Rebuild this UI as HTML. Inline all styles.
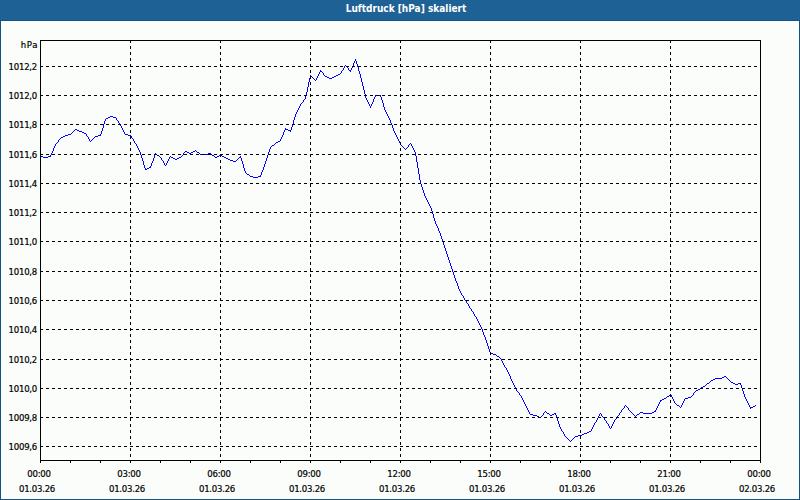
<!DOCTYPE html>
<html><head><meta charset="utf-8"><style>
html,body{margin:0;padding:0;}
body{width:800px;height:500px;position:relative;overflow:hidden;background:#fbfdfb;
font-family:"DejaVu Sans Condensed","DejaVu Sans","Liberation Sans",sans-serif;font-stretch:condensed;}
.yl,.xl,#hpa{-webkit-text-stroke:0.2px #000;}
#hd{position:absolute;left:0;top:0;width:800px;height:20px;background:#1e6291;}
#hd svg{position:absolute;left:0;top:0;}
#hd span{position:absolute;left:0;width:812px;top:3px;text-align:center;color:#fff;font-weight:bold;font-size:10px;line-height:12px;}
#bt{position:absolute;left:0;top:20px;width:800px;height:1px;background:#105486;}
#bl{position:absolute;left:0;top:20px;width:1px;height:480px;background:#105486;}
#br{position:absolute;left:799px;top:20px;width:1px;height:480px;background:#105486;}
#bb{position:absolute;left:0;top:499px;width:800px;height:1px;background:#105486;}
svg{position:absolute;left:0;top:0;}
.g{stroke:#000;stroke-width:1;stroke-dasharray:3 3;shape-rendering:crispEdges;}
.t{stroke:#000;stroke-width:1;shape-rendering:crispEdges;}
.f{fill:none;stroke:#000;stroke-width:1;shape-rendering:crispEdges;}
.d{fill:none;stroke:#0000ff;stroke-width:1;shape-rendering:crispEdges;stroke-linejoin:miter;}
.yl{position:absolute;right:763px;font-size:9.5px;letter-spacing:-0.25px;line-height:12px;color:#000;white-space:nowrap;}
.xl{position:absolute;width:60px;text-align:center;font-size:9.5px;letter-spacing:-0.25px;line-height:12px;color:#000;white-space:nowrap;}
#hpa{position:absolute;right:762px;top:39px;font-size:9.5px;line-height:12px;letter-spacing:0.6px;}
</style></head><body>
<div id="hd"><svg width="800" height="20"><defs><pattern id="dp" width="4" height="4" patternUnits="userSpaceOnUse"><rect x="1" y="1" width="1" height="1" fill="#215eb4"/><rect x="3" y="3" width="1" height="1" fill="#215eb4"/></pattern></defs><rect width="800" height="20" fill="url(#dp)"/></svg><span>Luftdruck [hPa] skaliert</span></div>
<div id="bt"></div><div id="bl"></div><div id="br"></div><div id="bb"></div>
<div id="hpa">hPa</div>
<div class="yl" style="top:61px">1012,2</div><div class="yl" style="top:90px">1012,0</div><div class="yl" style="top:119px">1011,8</div><div class="yl" style="top:149px">1011,6</div><div class="yl" style="top:178px">1011,4</div><div class="yl" style="top:207px">1011,2</div><div class="yl" style="top:236px">1011,0</div><div class="yl" style="top:266px">1010,8</div><div class="yl" style="top:295px">1010,6</div><div class="yl" style="top:324px">1010,4</div><div class="yl" style="top:354px">1010,2</div><div class="yl" style="top:383px">1010,0</div><div class="yl" style="top:412px">1009,8</div><div class="yl" style="top:441px">1009,6</div>
<div class="xl" style="left:9px;top:468px">00:00</div><div class="xl" style="left:7px;top:483px">01.03.26</div><div class="xl" style="left:99px;top:468px">03:00</div><div class="xl" style="left:97px;top:483px">01.03.26</div><div class="xl" style="left:189px;top:468px">06:00</div><div class="xl" style="left:187px;top:483px">01.03.26</div><div class="xl" style="left:279px;top:468px">09:00</div><div class="xl" style="left:277px;top:483px">01.03.26</div><div class="xl" style="left:369px;top:468px">12:00</div><div class="xl" style="left:367px;top:483px">01.03.26</div><div class="xl" style="left:459px;top:468px">15:00</div><div class="xl" style="left:457px;top:483px">01.03.26</div><div class="xl" style="left:549px;top:468px">18:00</div><div class="xl" style="left:547px;top:483px">01.03.26</div><div class="xl" style="left:639px;top:468px">21:00</div><div class="xl" style="left:637px;top:483px">01.03.26</div><div class="xl" style="left:729px;top:468px">00:00</div><div class="xl" style="left:727px;top:483px">02.03.26</div>
<svg width="800" height="500" viewBox="0 0 800 500">
<path d="M40 156h1v1h-1zM41 156h1v1h-1zM42 156h1v1h-1zM43 157h1v1h-1zM44 157h1v1h-1zM45 157h1v1h-1zM46 157h1v1h-1zM47 157h1v1h-1zM48 156h1v1h-1zM49 156h1v1h-1zM50 155h1v2h-1zM51 153h1v2h-1zM52 151h1v2h-1zM53 148h1v3h-1zM54 146h1v2h-1zM55 144h1v2h-1zM56 143h1v1h-1zM57 142h1v1h-1zM58 140h1v2h-1zM59 139h1v1h-1zM60 138h1v1h-1zM61 137h1v1h-1zM62 137h1v1h-1zM63 136h1v1h-1zM64 136h1v1h-1zM65 135h1v1h-1zM66 135h1v1h-1zM67 135h1v1h-1zM68 134h1v1h-1zM69 134h1v1h-1zM70 134h1v1h-1zM71 133h1v1h-1zM72 132h1v1h-1zM73 131h1v1h-1zM74 130h1v1h-1zM75 129h1v1h-1zM76 129h1v1h-1zM77 130h1v1h-1zM78 130h1v1h-1zM79 131h1v1h-1zM80 131h1v1h-1zM81 131h1v1h-1zM82 132h1v1h-1zM83 132h1v1h-1zM84 133h1v1h-1zM85 133h1v1h-1zM86 134h1v2h-1zM87 136h1v1h-1zM88 137h1v2h-1zM89 139h1v2h-1zM90 141h1v1h-1zM91 140h1v1h-1zM92 139h1v1h-1zM93 138h1v1h-1zM94 137h1v1h-1zM95 136h1v1h-1zM96 136h1v1h-1zM97 136h1v1h-1zM98 135h1v1h-1zM99 135h1v1h-1zM100 134h1v2h-1zM101 131h1v3h-1zM102 128h1v3h-1zM103 124h1v4h-1zM104 121h1v3h-1zM105 119h1v2h-1zM106 118h1v1h-1zM107 118h1v1h-1zM108 117h1v1h-1zM109 117h1v1h-1zM110 116h1v1h-1zM111 116h1v1h-1zM112 116h1v1h-1zM113 117h1v1h-1zM114 117h1v1h-1zM115 117h1v1h-1zM116 118h1v2h-1zM117 120h1v1h-1zM118 121h1v2h-1zM119 123h1v2h-1zM120 125h1v1h-1zM121 126h1v2h-1zM122 128h1v2h-1zM123 130h1v2h-1zM124 132h1v2h-1zM125 134h1v1h-1zM126 134h1v1h-1zM127 134h1v1h-1zM128 135h1v1h-1zM129 135h1v1h-1zM130 135h1v1h-1zM131 136h1v2h-1zM132 138h1v1h-1zM133 139h1v2h-1zM134 141h1v2h-1zM135 143h1v1h-1zM136 144h1v2h-1zM137 146h1v2h-1zM138 148h1v2h-1zM139 150h1v2h-1zM140 152h1v3h-1zM141 155h1v3h-1zM142 158h1v3h-1zM143 161h1v4h-1zM144 165h1v3h-1zM145 168h1v2h-1zM146 169h1v1h-1zM147 168h1v1h-1zM148 168h1v1h-1zM149 167h1v1h-1zM150 166h1v2h-1zM151 163h1v3h-1zM152 161h1v2h-1zM153 158h1v3h-1zM154 155h1v3h-1zM155 153h1v2h-1zM156 154h1v1h-1zM157 155h1v1h-1zM158 155h1v1h-1zM159 156h1v1h-1zM160 157h1v1h-1zM161 158h1v2h-1zM162 160h1v1h-1zM163 161h1v2h-1zM164 163h1v2h-1zM165 165h1v1h-1zM166 163h1v2h-1zM167 161h1v2h-1zM168 159h1v2h-1zM169 157h1v2h-1zM170 156h1v1h-1zM171 157h1v1h-1zM172 157h1v1h-1zM173 158h1v1h-1zM174 158h1v1h-1zM175 159h1v1h-1zM176 159h1v1h-1zM177 158h1v1h-1zM178 158h1v1h-1zM179 157h1v1h-1zM180 157h1v1h-1zM181 156h1v1h-1zM182 155h1v1h-1zM183 153h1v2h-1zM184 152h1v1h-1zM185 151h1v1h-1zM186 151h1v1h-1zM187 152h1v1h-1zM188 152h1v1h-1zM189 153h1v1h-1zM190 153h1v1h-1zM191 152h1v1h-1zM192 152h1v1h-1zM193 151h1v1h-1zM194 151h1v1h-1zM195 150h1v1h-1zM196 151h1v1h-1zM197 152h1v1h-1zM198 152h1v1h-1zM199 153h1v1h-1zM200 154h1v1h-1zM201 154h1v1h-1zM202 154h1v1h-1zM203 154h1v1h-1zM204 154h1v1h-1zM205 154h1v1h-1zM206 154h1v1h-1zM207 154h1v1h-1zM208 153h1v1h-1zM209 153h1v1h-1zM210 153h1v1h-1zM211 154h1v1h-1zM212 155h1v1h-1zM213 155h1v1h-1zM214 156h1v1h-1zM215 157h1v1h-1zM216 157h1v1h-1zM217 156h1v1h-1zM218 156h1v1h-1zM219 155h1v1h-1zM220 155h1v1h-1zM221 155h1v1h-1zM222 156h1v1h-1zM223 156h1v1h-1zM224 157h1v1h-1zM225 157h1v1h-1zM226 158h1v1h-1zM227 158h1v1h-1zM228 159h1v1h-1zM229 159h1v1h-1zM230 160h1v1h-1zM231 160h1v1h-1zM232 160h1v1h-1zM233 161h1v1h-1zM234 161h1v1h-1zM235 161h1v1h-1zM236 160h1v1h-1zM237 159h1v1h-1zM238 158h1v1h-1zM239 157h1v1h-1zM240 156h1v2h-1zM241 158h1v3h-1zM242 161h1v3h-1zM243 164h1v4h-1zM244 168h1v3h-1zM245 171h1v2h-1zM246 173h1v1h-1zM247 174h1v1h-1zM248 174h1v1h-1zM249 175h1v1h-1zM250 176h1v1h-1zM251 176h1v1h-1zM252 176h1v1h-1zM253 177h1v1h-1zM254 177h1v1h-1zM255 177h1v1h-1zM256 177h1v1h-1zM257 177h1v1h-1zM258 176h1v1h-1zM259 176h1v1h-1zM260 175h1v2h-1zM261 172h1v3h-1zM262 170h1v2h-1zM263 167h1v3h-1zM264 164h1v3h-1zM265 161h1v3h-1zM266 158h1v3h-1zM267 155h1v3h-1zM268 152h1v3h-1zM269 149h1v3h-1zM270 147h1v2h-1zM271 146h1v1h-1zM272 145h1v1h-1zM273 145h1v1h-1zM274 144h1v1h-1zM275 143h1v1h-1zM276 142h1v1h-1zM277 142h1v1h-1zM278 141h1v1h-1zM279 141h1v1h-1zM280 139h1v2h-1zM281 137h1v2h-1zM282 135h1v2h-1zM283 132h1v3h-1zM284 130h1v2h-1zM285 128h1v2h-1zM286 129h1v1h-1zM287 129h1v1h-1zM288 130h1v1h-1zM289 130h1v1h-1zM290 130h1v2h-1zM291 127h1v3h-1zM292 124h1v3h-1zM293 120h1v4h-1zM294 117h1v3h-1zM295 114h1v3h-1zM296 112h1v2h-1zM297 110h1v2h-1zM298 108h1v2h-1zM299 106h1v2h-1zM300 104h1v2h-1zM301 103h1v1h-1zM302 102h1v1h-1zM303 100h1v2h-1zM304 99h1v1h-1zM305 96h1v3h-1zM306 92h1v4h-1zM307 87h1v5h-1zM308 82h1v5h-1zM309 78h1v4h-1zM310 75h1v3h-1zM311 76h1v1h-1zM312 77h1v1h-1zM313 78h1v1h-1zM314 79h1v1h-1zM315 80h1v1h-1zM316 78h1v2h-1zM317 76h1v2h-1zM318 74h1v2h-1zM319 72h1v2h-1zM320 70h1v2h-1zM321 71h1v1h-1zM322 72h1v1h-1zM323 73h1v2h-1zM324 75h1v1h-1zM325 76h1v1h-1zM326 76h1v1h-1zM327 77h1v1h-1zM328 77h1v1h-1zM329 78h1v1h-1zM330 78h1v1h-1zM331 78h1v1h-1zM332 77h1v1h-1zM333 77h1v1h-1zM334 76h1v1h-1zM335 76h1v1h-1zM336 75h1v1h-1zM337 75h1v1h-1zM338 74h1v1h-1zM339 74h1v1h-1zM340 73h1v1h-1zM341 71h1v2h-1zM342 70h1v1h-1zM343 68h1v2h-1zM344 66h1v2h-1zM345 65h1v1h-1zM346 66h1v1h-1zM347 67h1v1h-1zM348 68h1v2h-1zM349 70h1v1h-1zM350 70h1v2h-1zM351 68h1v2h-1zM352 66h1v2h-1zM353 63h1v3h-1zM354 61h1v2h-1zM355 59h1v2h-1zM356 61h1v3h-1zM357 64h1v3h-1zM358 67h1v4h-1zM359 71h1v3h-1zM360 74h1v4h-1zM361 78h1v4h-1zM362 82h1v4h-1zM363 86h1v4h-1zM364 90h1v4h-1zM365 94h1v4h-1zM366 98h1v2h-1zM367 100h1v2h-1zM368 102h1v2h-1zM369 104h1v2h-1zM370 106h1v2h-1zM371 104h1v2h-1zM372 102h1v2h-1zM373 99h1v3h-1zM374 97h1v2h-1zM375 95h1v2h-1zM376 95h1v1h-1zM377 95h1v1h-1zM378 95h1v1h-1zM379 95h1v1h-1zM380 95h1v2h-1zM381 97h1v3h-1zM382 100h1v3h-1zM383 103h1v4h-1zM384 107h1v3h-1zM385 110h1v2h-1zM386 112h1v2h-1zM387 114h1v2h-1zM388 116h1v2h-1zM389 118h1v2h-1zM390 120h1v3h-1zM391 123h1v2h-1zM392 125h1v3h-1zM393 128h1v3h-1zM394 131h1v2h-1zM395 133h1v2h-1zM396 135h1v2h-1zM397 137h1v2h-1zM398 139h1v2h-1zM399 141h1v2h-1zM400 143h1v2h-1zM401 145h1v1h-1zM402 146h1v1h-1zM403 147h1v1h-1zM404 148h1v1h-1zM405 149h1v1h-1zM406 148h1v1h-1zM407 147h1v1h-1zM408 145h1v2h-1zM409 144h1v1h-1zM410 143h1v1h-1zM411 144h1v2h-1zM412 146h1v2h-1zM413 148h1v2h-1zM414 150h1v2h-1zM415 152h1v4h-1zM416 156h1v6h-1zM417 162h1v6h-1zM418 168h1v6h-1zM419 174h1v6h-1zM420 180h1v4h-1zM421 184h1v3h-1zM422 187h1v3h-1zM423 190h1v3h-1zM424 193h1v3h-1zM425 196h1v2h-1zM426 198h1v2h-1zM427 200h1v2h-1zM428 202h1v2h-1zM429 204h1v2h-1zM430 206h1v2h-1zM431 208h1v3h-1zM432 211h1v3h-1zM433 214h1v4h-1zM434 218h1v3h-1zM435 221h1v3h-1zM436 224h1v2h-1zM437 226h1v2h-1zM438 228h1v3h-1zM439 231h1v2h-1zM440 233h1v3h-1zM441 236h1v3h-1zM442 239h1v3h-1zM443 242h1v3h-1zM444 245h1v3h-1zM445 248h1v3h-1zM446 251h1v3h-1zM447 254h1v3h-1zM448 257h1v3h-1zM449 260h1v3h-1zM450 263h1v3h-1zM451 266h1v3h-1zM452 269h1v3h-1zM453 272h1v3h-1zM454 275h1v3h-1zM455 278h1v3h-1zM456 281h1v2h-1zM457 283h1v3h-1zM458 286h1v3h-1zM459 289h1v2h-1zM460 291h1v2h-1zM461 293h1v2h-1zM462 295h1v1h-1zM463 296h1v2h-1zM464 298h1v2h-1zM465 300h1v1h-1zM466 301h1v2h-1zM467 303h1v1h-1zM468 304h1v2h-1zM469 306h1v2h-1zM470 308h1v1h-1zM471 309h1v2h-1zM472 311h1v1h-1zM473 312h1v2h-1zM474 314h1v2h-1zM475 316h1v1h-1zM476 317h1v2h-1zM477 319h1v2h-1zM478 321h1v2h-1zM479 323h1v2h-1zM480 325h1v2h-1zM481 327h1v2h-1zM482 329h1v3h-1zM483 332h1v3h-1zM484 335h1v2h-1zM485 337h1v3h-1zM486 340h1v3h-1zM487 343h1v3h-1zM488 346h1v3h-1zM489 349h1v3h-1zM490 352h1v2h-1zM491 353h1v1h-1zM492 353h1v1h-1zM493 354h1v1h-1zM494 354h1v1h-1zM495 354h1v1h-1zM496 355h1v1h-1zM497 356h1v1h-1zM498 356h1v1h-1zM499 357h1v1h-1zM500 358h1v1h-1zM501 359h1v2h-1zM502 361h1v2h-1zM503 363h1v2h-1zM504 365h1v2h-1zM505 367h1v1h-1zM506 368h1v2h-1zM507 370h1v2h-1zM508 372h1v2h-1zM509 374h1v2h-1zM510 376h1v3h-1zM511 379h1v2h-1zM512 381h1v2h-1zM513 383h1v2h-1zM514 385h1v2h-1zM515 387h1v2h-1zM516 389h1v2h-1zM517 391h1v1h-1zM518 392h1v1h-1zM519 393h1v2h-1zM520 395h1v1h-1zM521 396h1v2h-1zM522 398h1v2h-1zM523 400h1v2h-1zM524 402h1v2h-1zM525 404h1v2h-1zM526 406h1v2h-1zM527 408h1v2h-1zM528 410h1v2h-1zM529 412h1v2h-1zM530 414h1v1h-1zM531 414h1v1h-1zM532 414h1v1h-1zM533 415h1v1h-1zM534 415h1v1h-1zM535 415h1v1h-1zM536 415h1v1h-1zM537 416h1v1h-1zM538 416h1v1h-1zM539 417h1v1h-1zM540 417h1v1h-1zM541 416h1v1h-1zM542 415h1v1h-1zM543 413h1v2h-1zM544 412h1v1h-1zM545 411h1v1h-1zM546 412h1v1h-1zM547 413h1v1h-1zM548 413h1v1h-1zM549 414h1v1h-1zM550 415h1v1h-1zM551 415h1v1h-1zM552 414h1v1h-1zM553 414h1v1h-1zM554 413h1v1h-1zM555 413h1v2h-1zM556 415h1v3h-1zM557 418h1v3h-1zM558 421h1v3h-1zM559 424h1v3h-1zM560 427h1v2h-1zM561 429h1v2h-1zM562 431h1v1h-1zM563 432h1v2h-1zM564 434h1v2h-1zM565 436h1v1h-1zM566 437h1v1h-1zM567 438h1v1h-1zM568 439h1v1h-1zM569 440h1v1h-1zM570 441h1v1h-1zM571 440h1v1h-1zM572 439h1v1h-1zM573 438h1v1h-1zM574 437h1v1h-1zM575 436h1v1h-1zM576 436h1v1h-1zM577 436h1v1h-1zM578 435h1v1h-1zM579 435h1v1h-1zM580 435h1v1h-1zM581 435h1v1h-1zM582 434h1v1h-1zM583 434h1v1h-1zM584 433h1v1h-1zM585 433h1v1h-1zM586 433h1v1h-1zM587 432h1v1h-1zM588 432h1v1h-1zM589 431h1v1h-1zM590 431h1v1h-1zM591 429h1v2h-1zM592 427h1v2h-1zM593 425h1v2h-1zM594 423h1v2h-1zM595 422h1v1h-1zM596 420h1v2h-1zM597 418h1v2h-1zM598 416h1v2h-1zM599 414h1v2h-1zM600 413h1v1h-1zM601 414h1v2h-1zM602 416h1v1h-1zM603 417h1v1h-1zM604 418h1v2h-1zM605 420h1v1h-1zM606 421h1v2h-1zM607 423h1v1h-1zM608 424h1v2h-1zM609 426h1v2h-1zM610 428h1v1h-1zM611 426h1v2h-1zM612 424h1v2h-1zM613 422h1v2h-1zM614 420h1v2h-1zM615 419h1v1h-1zM616 417h1v2h-1zM617 416h1v1h-1zM618 415h1v1h-1zM619 413h1v2h-1zM620 412h1v1h-1zM621 410h1v2h-1zM622 409h1v1h-1zM623 408h1v1h-1zM624 406h1v2h-1zM625 405h1v1h-1zM626 406h1v1h-1zM627 407h1v1h-1zM628 408h1v2h-1zM629 410h1v1h-1zM630 411h1v1h-1zM631 412h1v1h-1zM632 413h1v1h-1zM633 414h1v1h-1zM634 415h1v1h-1zM635 416h1v1h-1zM636 415h1v1h-1zM637 414h1v1h-1zM638 414h1v1h-1zM639 413h1v1h-1zM640 412h1v1h-1zM641 412h1v1h-1zM642 412h1v1h-1zM643 413h1v1h-1zM644 413h1v1h-1zM645 413h1v1h-1zM646 413h1v1h-1zM647 413h1v1h-1zM648 413h1v1h-1zM649 413h1v1h-1zM650 413h1v1h-1zM651 413h1v1h-1zM652 412h1v1h-1zM653 412h1v1h-1zM654 411h1v1h-1zM655 410h1v2h-1zM656 408h1v2h-1zM657 406h1v2h-1zM658 404h1v2h-1zM659 402h1v2h-1zM660 400h1v2h-1zM661 400h1v1h-1zM662 399h1v1h-1zM663 399h1v1h-1zM664 398h1v1h-1zM665 398h1v1h-1zM666 397h1v1h-1zM667 396h1v1h-1zM668 396h1v1h-1zM669 395h1v1h-1zM670 394h1v1h-1zM671 395h1v2h-1zM672 397h1v2h-1zM673 399h1v2h-1zM674 401h1v2h-1zM675 403h1v1h-1zM676 404h1v1h-1zM677 405h1v1h-1zM678 405h1v1h-1zM679 406h1v1h-1zM680 407h1v1h-1zM681 405h1v2h-1zM682 403h1v2h-1zM683 401h1v2h-1zM684 399h1v2h-1zM685 398h1v1h-1zM686 398h1v1h-1zM687 398h1v1h-1zM688 397h1v1h-1zM689 397h1v1h-1zM690 397h1v1h-1zM691 396h1v1h-1zM692 395h1v1h-1zM693 393h1v2h-1zM694 392h1v1h-1zM695 391h1v1h-1zM696 390h1v1h-1zM697 390h1v1h-1zM698 389h1v1h-1zM699 389h1v1h-1zM700 388h1v1h-1zM701 387h1v1h-1zM702 387h1v1h-1zM703 386h1v1h-1zM704 386h1v1h-1zM705 385h1v1h-1zM706 384h1v1h-1zM707 383h1v1h-1zM708 383h1v1h-1zM709 382h1v1h-1zM710 381h1v1h-1zM711 380h1v1h-1zM712 380h1v1h-1zM713 379h1v1h-1zM714 379h1v1h-1zM715 378h1v1h-1zM716 378h1v1h-1zM717 378h1v1h-1zM718 378h1v1h-1zM719 378h1v1h-1zM720 378h1v1h-1zM721 378h1v1h-1zM722 377h1v1h-1zM723 377h1v1h-1zM724 376h1v1h-1zM725 376h1v1h-1zM726 377h1v1h-1zM727 378h1v1h-1zM728 379h1v1h-1zM729 380h1v1h-1zM730 381h1v1h-1zM731 382h1v1h-1zM732 382h1v1h-1zM733 383h1v1h-1zM734 383h1v1h-1zM735 384h1v1h-1zM736 384h1v1h-1zM737 384h1v1h-1zM738 383h1v1h-1zM739 383h1v1h-1zM740 383h1v2h-1zM741 385h1v3h-1zM742 388h1v3h-1zM743 391h1v3h-1zM744 394h1v3h-1zM745 397h1v2h-1zM746 399h1v2h-1zM747 401h1v2h-1zM748 403h1v2h-1zM749 405h1v2h-1zM750 407h1v2h-1zM751 407h1v1h-1zM752 407h1v1h-1zM753 406h1v1h-1zM754 406h1v1h-1zM755 405h1v1h-1z" fill="#0000ff"/><line x1="40" y1="66.5" x2="760" y2="66.5" class="g"/><line x1="40" y1="95.5" x2="760" y2="95.5" class="g"/><line x1="40" y1="124.5" x2="760" y2="124.5" class="g"/><line x1="40" y1="154.5" x2="760" y2="154.5" class="g"/><line x1="40" y1="183.5" x2="760" y2="183.5" class="g"/><line x1="40" y1="212.5" x2="760" y2="212.5" class="g"/><line x1="40" y1="241.5" x2="760" y2="241.5" class="g"/><line x1="40" y1="271.5" x2="760" y2="271.5" class="g"/><line x1="40" y1="300.5" x2="760" y2="300.5" class="g"/><line x1="40" y1="329.5" x2="760" y2="329.5" class="g"/><line x1="40" y1="359.5" x2="760" y2="359.5" class="g"/><line x1="40" y1="388.5" x2="760" y2="388.5" class="g"/><line x1="40" y1="417.5" x2="760" y2="417.5" class="g"/><line x1="40" y1="446.5" x2="760" y2="446.5" class="g"/><line x1="130.5" y1="40" x2="130.5" y2="460" class="g"/><line x1="220.5" y1="40" x2="220.5" y2="460" class="g"/><line x1="310.5" y1="40" x2="310.5" y2="460" class="g"/><line x1="400.5" y1="40" x2="400.5" y2="460" class="g"/><line x1="490.5" y1="40" x2="490.5" y2="460" class="g"/><line x1="580.5" y1="40" x2="580.5" y2="460" class="g"/><line x1="670.5" y1="40" x2="670.5" y2="460" class="g"/><line x1="40.5" y1="460" x2="40.5" y2="463" class="t"/><line x1="70.5" y1="460" x2="70.5" y2="463" class="t"/><line x1="100.5" y1="460" x2="100.5" y2="463" class="t"/><line x1="130.5" y1="460" x2="130.5" y2="463" class="t"/><line x1="160.5" y1="460" x2="160.5" y2="463" class="t"/><line x1="190.5" y1="460" x2="190.5" y2="463" class="t"/><line x1="220.5" y1="460" x2="220.5" y2="463" class="t"/><line x1="250.5" y1="460" x2="250.5" y2="463" class="t"/><line x1="280.5" y1="460" x2="280.5" y2="463" class="t"/><line x1="310.5" y1="460" x2="310.5" y2="463" class="t"/><line x1="340.5" y1="460" x2="340.5" y2="463" class="t"/><line x1="370.5" y1="460" x2="370.5" y2="463" class="t"/><line x1="400.5" y1="460" x2="400.5" y2="463" class="t"/><line x1="430.5" y1="460" x2="430.5" y2="463" class="t"/><line x1="460.5" y1="460" x2="460.5" y2="463" class="t"/><line x1="490.5" y1="460" x2="490.5" y2="463" class="t"/><line x1="520.5" y1="460" x2="520.5" y2="463" class="t"/><line x1="550.5" y1="460" x2="550.5" y2="463" class="t"/><line x1="580.5" y1="460" x2="580.5" y2="463" class="t"/><line x1="610.5" y1="460" x2="610.5" y2="463" class="t"/><line x1="640.5" y1="460" x2="640.5" y2="463" class="t"/><line x1="670.5" y1="460" x2="670.5" y2="463" class="t"/><line x1="700.5" y1="460" x2="700.5" y2="463" class="t"/><line x1="730.5" y1="460" x2="730.5" y2="463" class="t"/><line x1="760.5" y1="460" x2="760.5" y2="463" class="t"/><rect x="40.5" y="40.5" width="720" height="420" class="f"/>
</svg>
</body></html>
